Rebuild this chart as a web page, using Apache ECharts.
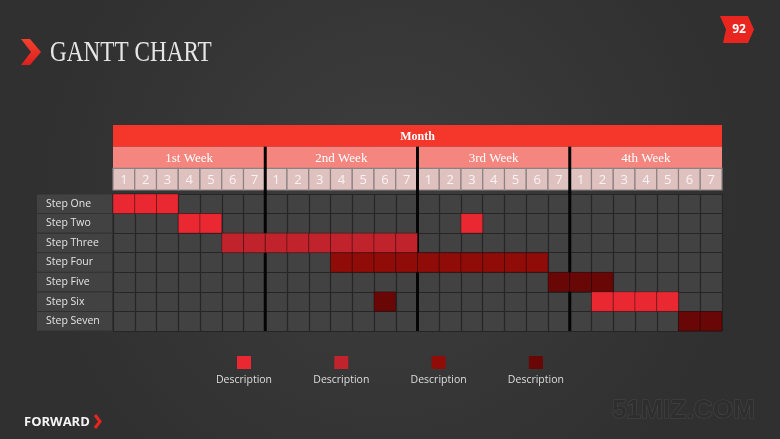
<!DOCTYPE html>
<html><head><meta charset="utf-8">
<script src="https://cdn.jsdelivr.net/npm/echarts@6/dist/echarts.min.js"></script>
<style>html,body{margin:0;padding:0;background:#3a3a3a;}#c{width:780px;height:439px;}</style>
</head><body><div id="c"></div>
<script>
// ---- data ----
const steps = ['Step One','Step Two','Step Three','Step Four','Step Five','Step Six','Step Seven'];
const monthLabel = 'Month';
const weekLabels = ['1st Week','2nd Week','3rd Week','4th Week'];
const dayLabels = ['1','2','3','4','5','6','7'];
// tasks: [stepIndex, firstDay, lastDay (0-based over the 28 days), colour level]
const tasks = [
  [0, 0, 2, 0],
  [1, 3, 4, 0],
  [1, 16, 16, 0],
  [2, 5, 13, 1],
  [3, 10, 19, 2],
  [4, 20, 22, 3],
  [5, 12, 12, 3],
  [5, 22, 25, 0],
  [6, 26, 27, 3]
];
const levelColors = ['#ea2832', '#c0232b', '#8f0c09', '#690606'];
const legendLabels = ['Description', 'Description', 'Description', 'Description'];

// ---- derived ----
const daysPerWeek = dayLabels.length;
const totalDays = weekLabels.length * daysPerWeek;
const cells = [];
tasks.forEach(t => { for (let d = t[1]; d <= t[2]; d++) cells.push([d, t[0], t[3]]); });
const header = [];
header.push({ value: [0, 0, totalDays], text: monthLabel, kind: 'month' });
weekLabels.forEach((w, i) => header.push({ value: [i * daysPerWeek, 1, daysPerWeek], text: w, kind: 'week' }));
weekLabels.forEach((w, i) => dayLabels.forEach((d, j) => header.push({ value: [i * daysPerWeek + j, 2, 1], text: d, kind: 'day' })));
const weekBounds = [];
for (let i = 1; i < weekLabels.length; i++) weekBounds.push([i * daysPerWeek]);

const chart = echarts.init(document.getElementById('c'));

function renderHeader(params, api) {
  const item = header[params.dataIndex];
  const p = api.coord([api.value(0), api.value(1)]);
  const s = api.size([api.value(2), 1]);
  const x = p[0], y = p[1] - s[1] / 2, w = s[0], h = s[1];
  let fill, stroke = null, lw = 0, font, color = '#ffffff';
  if (item.kind === 'month') { fill = '#f5362b'; font = 'bold 12px "Liberation Serif"'; }
  else if (item.kind === 'week') { fill = '#f5857f'; font = '13px "Liberation Serif"'; }
  else { fill = '#dfc2c0'; stroke = '#8c8282'; lw = 1.2; font = '13px "Open Sans"'; color = '#f7f3f3'; }
  return {
    type: 'group',
    children: [
      { type: 'rect', shape: { x: x, y: y, width: w, height: h }, style: { fill: fill, stroke: stroke, lineWidth: lw } },
      { type: 'text', x: x + w / 2, y: y + h / 2 + 1, style: { text: item.text, font: font, fill: color, align: 'center', verticalAlign: 'middle' } }
    ]
  };
}

function renderSepHeader(params, api) {
  const top = api.coord([api.value(0), 1]);
  const bot = api.coord([api.value(0), 2]);
  const h = api.size([0, 1])[1];
  return { type: 'line', shape: { x1: top[0], y1: top[1] - h / 2, x2: bot[0], y2: bot[1] + h / 2 + 3 }, style: { stroke: '#050505', lineWidth: 3 } };
}
function renderSepMain(params, api) {
  const top = api.coord([api.value(0), 0]);
  const bot = api.coord([api.value(0), steps.length - 1]);
  const h = api.size([0, 1])[1];
  return { type: 'line', shape: { x1: top[0], y1: top[1] - h / 2 - 2, x2: bot[0], y2: bot[1] + h / 2 }, style: { stroke: '#050505', lineWidth: 3 } };
}
function renderCell(params, api) {
  const p = api.coord([api.value(0), api.value(1)]);
  const s = api.size([1, 1]);
  return { type: 'rect', shape: { x: p[0], y: p[1] - s[1] / 2, width: s[0], height: s[1] },
    style: { fill: levelColors[api.value(2)], stroke: 'rgba(0,0,0,0.28)', lineWidth: 1 } };
}

const graphics = [
  { type: 'polygon', shape: { points: [[21, 39], [30, 39], [41, 52], [30, 65], [21, 65], [31, 52]] },
    style: { fill: { type: 'linear', x: 0, y: 0, x2: 0, y2: 1, colorStops: [{ offset: 0, color: '#f3412f' }, { offset: 1, color: '#dd1f1d' }] } } },
  { type: 'text', x: 50, y: 53, scaleX: 0.8, style: { text: 'GANTT CHART', font: '29px "Liberation Serif"', fill: '#e6e6e6', verticalAlign: 'middle' } },
  { type: 'polygon', shape: { points: [[720, 16], [748, 16], [754, 29.5], [748, 43], [723, 43], [726, 29.5]] }, style: { fill: '#e8261f' } },
  { type: 'text', x: 739, y: 30, style: { text: '92', font: 'bold 12px "Open Sans"', fill: '#ffffff', align: 'center', verticalAlign: 'middle' } },
  { type: 'text', x: 24, y: 422, style: { text: 'FORWARD', font: 'bold 13px "Open Sans"', fill: '#f4f4f4', verticalAlign: 'middle' } },
  { type: 'polyline', shape: { points: [[95, 415], [100, 421.5], [95, 428]] }, style: { stroke: '#e8261f', lineWidth: 3, fill: null } },
  { type: 'text', x: 612, y: 411, scaleX: 1.05, style: { text: '51MIZ.COM', font: 'bold 25px "Liberation Sans"', fill: '#2e2e2e', stroke: '#484848', lineWidth: 1, verticalAlign: 'middle' } }
];
legendLabels.forEach((lab, i) => {
  const cx = 244 + i * 97.3;
  graphics.push({ type: 'rect', shape: { x: cx - 7, y: 356, width: 14, height: 13 }, style: { fill: levelColors[i] } });
  graphics.push({ type: 'text', x: cx, y: 380, style: { text: lab, font: '10.5px "Open Sans"', fill: '#dedede', align: 'center', verticalAlign: 'middle' } });
});

chart.setOption({
  backgroundColor: { type: 'radial', x: 0.5, y: 0.45, r: 0.8, colorStops: [{ offset: 0, color: '#3e3e3e' }, { offset: 1, color: '#303030' }] },
  animation: false,
  grid: [
    { left: 113, right: 58, top: 125, height: 65 },
    { left: 113, right: 58, top: 194, height: 137, show: true, backgroundColor: '#424242', borderWidth: 0 }
  ],
  xAxis: [
    { gridIndex: 0, type: 'value', min: 0, max: totalDays, show: false },
    { gridIndex: 1, type: 'value', min: 0, max: totalDays, interval: 1,
      axisLine: { show: false }, axisTick: { show: false }, axisLabel: { show: false },
      splitLine: { show: true, lineStyle: { color: '#262626', width: 1.2 } } }
  ],
  yAxis: [
    { gridIndex: 0, type: 'category', data: ['month', 'week', 'day'], inverse: true, show: false },
    { gridIndex: 1, type: 'category', data: steps, inverse: true,
      axisLine: { show: false }, axisTick: { show: false },
      splitLine: { show: true, lineStyle: { color: '#262626', width: 1.2 } },
      axisLabel: { interval: 0, align: 'left', margin: 76, backgroundColor: '#424242', width: 66, height: 18.5, lineHeight: 18.5,
        padding: [0, 0, 0, 9], color: '#e4e4e4', fontSize: 10.5, fontFamily: 'Open Sans', verticalAlign: 'middle' } }
  ],
  series: [
    { type: 'custom', xAxisIndex: 0, yAxisIndex: 0, data: header.map(h => h.value), renderItem: renderHeader, z: 2 },
    { type: 'custom', xAxisIndex: 0, yAxisIndex: 0, data: weekBounds, renderItem: renderSepHeader, z: 3 },
    { type: 'custom', xAxisIndex: 1, yAxisIndex: 1, data: weekBounds, renderItem: renderSepMain, z: 2 },
    { type: 'custom', xAxisIndex: 1, yAxisIndex: 1, data: cells, renderItem: renderCell, z: 3 }
  ],
  graphic: graphics
});
</script>
</body></html>
